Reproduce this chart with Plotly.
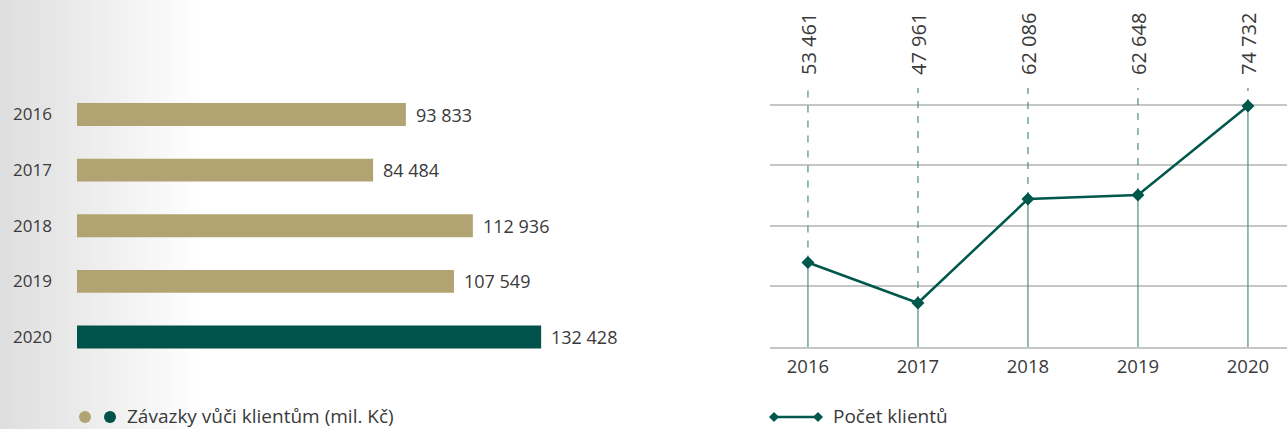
import plotly.graph_objects as go

W, H = 1287, 429

# ---- data ----
years = ["2016", "2017", "2018", "2019", "2020"]
liabilities = [93833, 84484, 112936, 107549, 132428]   # Závazky vůči klientům (mil. Kč)
clients = [53461, 47961, 62086, 62648, 74732]          # Počet klientů
legend_left = "Závazky vůči klientům (mil. Kč)"
legend_right = "Počet klientů"

GOLD = "#b2a472"
TEAL = "#00524a"
LINE = "#00574c"
VLINE = "#4d8e85"
GRID = "#c6c6c6"
TXT = "#3a3a3a"
FONT = "Open Sans"


def px(x):
    return x / W


def py(y):
    return 1 - y / H


def fmt(v):
    return f"{v:,}".replace(",", " ")


fig = go.Figure()

# left: horizontal bars
bar_colors = [TEAL if y == "2020" else GOLD for y in years]
fig.add_trace(go.Bar(
    x=liabilities, y=years, orientation="h", width=0.41,
    marker=dict(color=bar_colors, line=dict(width=0)),
    xaxis="x", yaxis="y", showlegend=False, hoverinfo="x+y",
))

# right: line chart with guide lines
y_top = 77173
y_bot = 41983
dx, dy, sx, sy = [], [], [], []
for c, v in zip(years, clients):
    dx += [c, c, None]
    dy += [v, y_top, None]
    sx += [c, c, None]
    sy += [y_bot, v, None]
fig.add_trace(go.Scatter(x=dx, y=dy, mode="lines", xaxis="x2", yaxis="y2",
                         line=dict(color=VLINE, width=1.2, dash="7px,8px"),
                         showlegend=False, hoverinfo="skip"))
fig.add_trace(go.Scatter(x=sx, y=sy, mode="lines", xaxis="x2", yaxis="y2",
                         line=dict(color=VLINE, width=1.2),
                         showlegend=False, hoverinfo="skip"))
fig.add_trace(go.Scatter(x=years, y=clients, mode="lines+markers", xaxis="x2", yaxis="y2",
                         line=dict(color=LINE, width=2.5),
                         marker=dict(symbol="diamond", size=10, color=LINE),
                         showlegend=False, name=legend_right))

annotations = []
for i, v in enumerate(liabilities):
    annotations.append(dict(x=v, y=i, xref="x", yref="y", text=fmt(v), showarrow=False,
                            xanchor="left", xshift=8, font=dict(size=18, color=TXT, family=FONT)))
for i, v in enumerate(clients):
    annotations.append(dict(x=i, y=py(77), xref="x2", yref="paper", text=fmt(v), showarrow=False,
                            textangle=-90, xanchor="center", yanchor="bottom",
                            font=dict(size=20, color=TXT, family=FONT)))
annotations.append(dict(x=px(126), y=py(415.5), xref="paper", yref="paper", text=legend_left,
                        showarrow=False, xanchor="left", yanchor="middle", borderpad=0,
                        font=dict(size=19, color=TXT, family=FONT)))
annotations.append(dict(x=px(832), y=py(415.5), xref="paper", yref="paper", text=legend_right,
                        showarrow=False, xanchor="left", yanchor="middle", borderpad=0,
                        font=dict(size=19, color=TXT, family=FONT)))

shapes = []
# background gradient on the left
step = 5
for i in range(0, 210, step):
    g = int(round(222 + 33 * min(1, (i + step / 2) / 205)))
    shapes.append(dict(type="rect", xref="paper", yref="paper", x0=px(i), x1=px(i + step + 0.5),
                       y0=0, y1=1, fillcolor=f"rgb({g},{g},{g})", line=dict(width=0), layer="below"))
# legend dots
for cx, col in [(85, GOLD), (110, TEAL)]:
    shapes.append(dict(type="circle", xref="paper", yref="paper", x0=px(cx - 6), x1=px(cx + 6),
                       y0=py(423), y1=py(411), fillcolor=col, line=dict(width=0)))
# legend line with diamonds
shapes.append(dict(type="line", xref="paper", yref="paper", x0=px(774), x1=px(818),
                   y0=py(417), y1=py(417), line=dict(color=LINE, width=2.5)))
for cx in (774, 818):
    d = 5
    path = (f"M {px(cx - d)} {py(417)} L {px(cx)} {py(417 - d)} L {px(cx + d)} {py(417)} "
            f"L {px(cx)} {py(417 + d)} Z")
    shapes.append(dict(type="path", xref="paper", yref="paper", path=path,
                       fillcolor=LINE, line=dict(width=0)))

grid_vals = [41983, 50204, 58425, 66646, 74867]

fig.update_layout(
    width=W, height=H,
    margin=dict(l=0, r=0, t=0, b=0),
    paper_bgcolor="white", plot_bgcolor="rgba(0,0,0,0)",
    font=dict(family=FONT, color=TXT, size=16),
    xaxis=dict(domain=[px(77), px(650)], range=[0, 573 / 0.003505], visible=False, fixedrange=True),
    yaxis=dict(domain=[py(364.8), py(86.7)], type="category", categoryorder="array",
               categoryarray=years, range=[4.5, -0.5], showgrid=False, zeroline=False,
               showline=False, ticks="", ticklabelstandoff=24,
               tickfont=dict(size=17, color=TXT, family=FONT)),
    xaxis2=dict(domain=[px(770), 1], type="category", categoryorder="array", categoryarray=years,
                range=[-0.345, 4.355], showgrid=False, zeroline=False, showline=True,
                linecolor=GRID, linewidth=1.5, ticks="", ticklabelstandoff=2,
                tickfont=dict(size=18.5, color=TXT, family=FONT), anchor="y2"),
    yaxis2=dict(domain=[py(347), py(88)], range=[y_bot, y_top], tickvals=grid_vals,
                showticklabels=False, showgrid=True, gridcolor=GRID, gridwidth=1.5,
                zeroline=False, showline=False, ticks="", anchor="x2"),
    annotations=annotations,
    shapes=shapes,
    showlegend=False,
)

fig.write_html("out.html", config={"displayModeBar": False},
               post_script="document.body.style.margin='0';")
